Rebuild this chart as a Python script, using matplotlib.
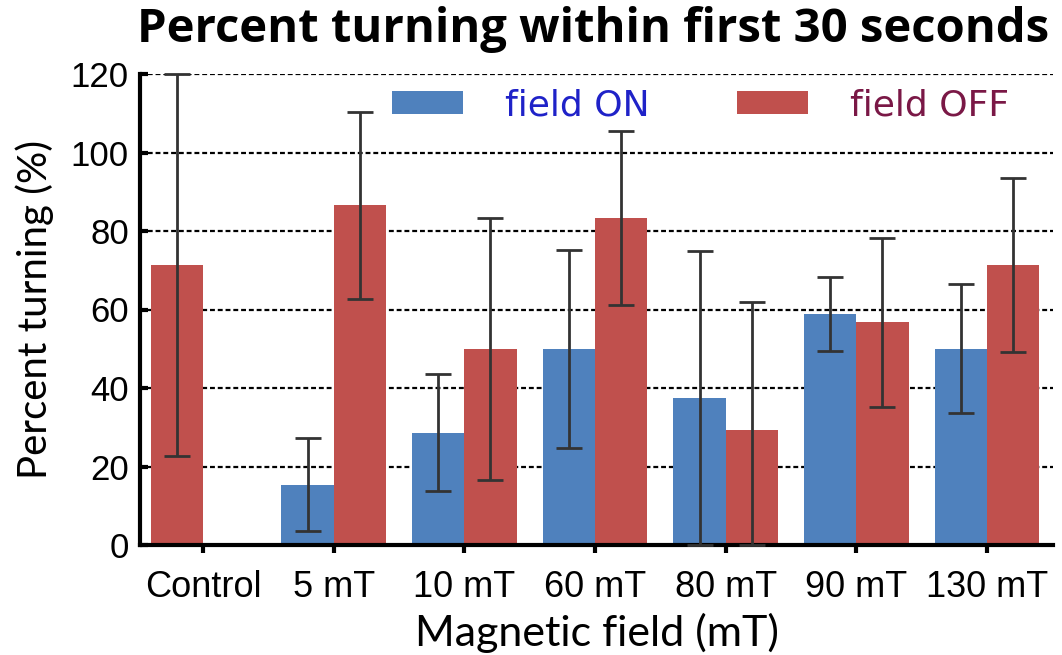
import matplotlib
matplotlib.use("Agg")
import matplotlib.pyplot as plt
from matplotlib.patches import Patch
import numpy as np

categories = ["Control", "5 mT", "10 mT", "60 mT", "80 mT", "90 mT", "130 mT"]
# field ON (Control has no ON measurement)
on_values = [np.nan, 15.4, 28.6, 50.0, 37.5, 58.8, 50.0]
on_err = [np.nan, 11.8, 14.9, 25.2, 37.4, 9.5, 16.4]
# field OFF
off_values = [71.4, 86.5, 50.0, 83.3, 29.2, 56.7, 71.4]
off_err = [48.8, 23.9, 33.4, 22.2, 32.6, 21.6, 22.2]

yticks = [0, 20, 40, 60, 80, 100, 120]
legend_labels = ["field ON", "field OFF"]

BLUE = "#4F81BD"
RED = "#C0504D"
ERR = "#333333"
YMAX = 120

fig = plt.figure(figsize=(10.62, 6.55), dpi=100)
ax = fig.add_axes([140 / 1062, 1 - 545 / 655, (1053 - 140) / 1062, (545 - 74) / 655])

x = np.arange(len(categories))
w = 0.40
on_v = np.array(on_values, dtype=float)
on_e = np.array(on_err, dtype=float)
off_v = np.array(off_values, dtype=float)
off_e = np.array(off_err, dtype=float)

# Control has only OFF bar, drawn in the left slot
has_on = ~np.isnan(on_v)
off_pos = np.where(has_on, x + w / 2, x - w / 2)
on_pos = x - w / 2

ax.bar(on_pos[has_on], on_v[has_on], width=w, color=BLUE, zorder=2)
ax.bar(off_pos, off_v, width=w, color=RED, zorder=2)


def errs(v, e):
    lo = np.minimum(e, v)
    hi = np.minimum(e, YMAX - v)
    return np.vstack([lo, hi])


ekw = dict(fmt="none", ecolor=ERR, elinewidth=2.0, capsize=9.6, capthick=2.0, zorder=3, clip_on=False)
ax.errorbar(on_pos[has_on], on_v[has_on], yerr=errs(on_v[has_on], on_e[has_on]), **ekw)
ax.errorbar(off_pos, off_v, yerr=errs(off_v, off_e), **ekw)

ax.set_xlim(-0.482, 6.505)
ax.set_ylim(0, YMAX)
ax.set_yticks(yticks)
ax.set_xticks(x)
ax.set_xticklabels(categories)

ax.yaxis.grid(True, linestyle=(0, (2.2, 1.3)), color="black", linewidth=1.6)
ax.set_axisbelow(True)

for s in ["top", "right"]:
    ax.spines[s].set_visible(False)
for s in ["left", "bottom"]:
    ax.spines[s].set_linewidth(3)

ax.tick_params(axis="y", direction="in", length=6, width=3, pad=8)
ax.tick_params(axis="x", direction="out", length=6, width=3, pad=12)
for lab in ax.get_yticklabels():
    lab.set_fontfamily("Liberation Sans")
    lab.set_fontsize(25)
for lab in ax.get_xticklabels():
    lab.set_fontfamily("Liberation Sans")
    lab.set_fontsize(26)

ax.set_ylabel("Percent turning (%)", fontsize=29, family="Lato", labelpad=12)
ax.set_xlabel("Magnetic field (mT)", fontsize=31, family="Lato", labelpad=6)
fig.text(593 / 1062, 1 - 42 / 655, "Percent turning within first 30 seconds", ha="center", va="baseline",
         fontsize=34, family="Open Sans", fontweight="bold")

handles = [Patch(facecolor=BLUE), Patch(facecolor=RED)]
leg = ax.legend(handles, legend_labels, ncol=2, frameon=False, loc="center left",
                bbox_to_anchor=(0.276, 0.934), borderpad=0, borderaxespad=0,
                handlelength=1.97, handleheight=0.58, handletextpad=1.16, columnspacing=2.42,
                prop={"family": "DejaVu Sans", "size": 26})
leg.get_texts()[0].set_color("#1F22C8")
leg.get_texts()[1].set_color("#7A1846")

fig.savefig("out.png", dpi=100)
